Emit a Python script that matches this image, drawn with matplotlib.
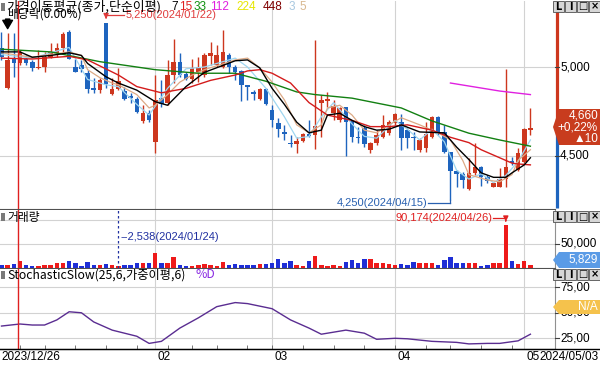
import matplotlib
matplotlib.use("Agg")
import matplotlib.pyplot as plt
from matplotlib.patches import Rectangle, Polygon
from matplotlib.lines import Line2D
from matplotlib.transforms import blended_transform_factory
import numpy as np
import pandas as pd

plt.rcParams['font.family'] = ['Noto Sans CJK KR', 'DejaVu Sans']

W, H = 600, 366

# 거래일 (휴장일 빼고)
holidays = pd.to_datetime(['2023-12-29', '2024-01-01', '2024-02-09', '2024-02-12',
                           '2024-03-01', '2024-04-10', '2024-05-01'])
days = pd.bdate_range('2023-12-26', '2024-05-03')
days = days[~days.isin(holidays)]

# 일봉 시가/고가/저가/종가
opens = [5105, 4880, 5045, 5020, 5045, 5030, 4995, 5000, 5055, 5080,
         5105, 5195, 5000, 5010, 4965, 4880, 4870, 5245, 4850, 4875,
         4865, 4835, 4820, 4695, 4740, 4580, 4825, 4800, 4955, 5030,
         4960, 4935, 4970, 4955, 5060, 5010, 5000, 5065, 5000, 4980,
         4900, 4860, 4820, 4875, 4760, 4685, 4635, 4575, 4565, 4585,
         4625, 4620, 4800, 4810, 4740, 4700, 4775, 4695, 4605, 4655,
         4535, 4575, 4605, 4630, 4685, 4690, 4645, 4605, 4535, 4545,
         4605, 4720, 4635, 4525, 4415, 4400, 4315, 4405, 4440, 4380,
         4325, 4325, 4370, 4470, 4420, 4465, 4645]
highs = [5195, 5190, 5190, 5095, 5065, 5040, 5095, 5085, 5135, 5135,
         5195, 5210, 5045, 5040, 4985, 4940, 4940, 5250, 4940, 4995,
         4890, 4855, 4830, 4785, 4760, 4955, 4925, 5040, 5155, 5080,
         4970, 5045, 5055, 5080, 5140, 5125, 5210, 5080, 5010, 4985,
         4900, 4870, 4880, 4880, 4785, 4715, 4675, 4620, 4605, 4630,
         4700, 5150, 4845, 4860, 4815, 4775, 4775, 4700, 4665, 4675,
         4580, 4645, 4730, 4700, 4740, 4735, 4655, 4635, 4600, 4690,
         4725, 4725, 4675, 4525, 4420, 4410, 4490, 4575, 4445, 4395,
         4355, 4430, 4990, 4495, 4545, 4655, 4770]
lows = [5040, 4875, 4945, 5010, 5010, 4975, 4990, 4970, 5050, 5055,
        5085, 5045, 4970, 4970, 4855, 4855, 4855, 4880, 4845, 4870,
        4815, 4800, 4740, 4685, 4690, 4515, 4775, 4785, 4910, 4945,
        4925, 4910, 4915, 4945, 5010, 5000, 4995, 4965, 4925, 4810,
        4815, 4815, 4815, 4785, 4665, 4605, 4590, 4550, 4515, 4580,
        4605, 4540, 4605, 4775, 4700, 4690, 4500, 4580, 4575, 4550,
        4515, 4560, 4600, 4620, 4675, 4535, 4545, 4535, 4525, 4525,
        4600, 4620, 4515, 4250, 4325, 4320, 4310, 4395, 4330, 4350,
        4325, 4325, 4325, 4450, 4415, 4460, 4620]
closes = [5055, 5040, 5020, 5085, 5020, 4995, 5000, 5055, 5085, 5105,
          5185, 5045, 4970, 4990, 4875, 4870, 4925, 4905, 4875, 4920,
          4820, 4825, 4745, 4740, 4700, 4815, 4790, 4955, 5030, 4955,
          4935, 4995, 5000, 5065, 5080, 5065, 5085, 5000, 4970, 4900,
          4890, 4850, 4875, 4790, 4700, 4650, 4625, 4565, 4585, 4625,
          4610, 4670, 4815, 4820, 4780, 4770, 4690, 4605, 4600, 4565,
          4575, 4620, 4675, 4690, 4735, 4600, 4600, 4600, 4590, 4625,
          4720, 4630, 4525, 4415, 4400, 4365, 4405, 4440, 4380, 4360,
          4350, 4370, 4440, 4460, 4515, 4650, 4660]
volumes = [5700, 5700, 7000, 12800, 5700, 3600, 3600, 5700, 5700, 10000,
           10000, 14300, 10000, 3600, 12100, 5700, 5700, 7900, 5700, 2538,
           5700, 5700, 9200, 8500, 10600, 29800, 10000, 10600, 21300, 4900,
           3600, 3600, 5700, 7000, 5700, 3600, 12100, 5700, 7000, 5700,
           4300, 4300, 7000, 7000, 8500, 17700, 10600, 12800, 5700, 3600,
           14300, 24900, 5700, 3600, 5700, 3600, 12100, 15500, 8500, 17700,
           17700, 10600, 10000, 7000, 5700, 7000, 5700, 12100, 10000, 8500,
           8500, 5700, 15500, 22800, 10600, 8500, 8500, 8500, 3600, 5700,
           9200, 9200, 90174, 14300, 7000, 14300, 5829]

# 이동평균선 (그림에서 읽은 점)
ma7_x = [0, 3, 5, 8, 11, 13, 14, 17, 19, 22, 25, 27, 30, 33, 38, 40, 42, 44, 46, 48,
         50, 52, 53, 55, 57, 59, 61, 63, 65, 68, 72, 74, 76, 78, 80, 82, 83, 85, 86]
ma7_y = [5085, 5085, 5055, 5065, 5080, 5065, 5020, 4945, 4910, 4870, 4805, 4785, 4890,
         4970, 5035, 5040, 4995, 4880, 4790, 4690, 4630, 4645, 4730, 4740, 4700, 4665,
         4645, 4650, 4675, 4635, 4630, 4550, 4480, 4405, 4380, 4380, 4405, 4450, 4490]
ma15_x = [0, 5, 11, 14, 19, 22, 26, 30, 34, 38, 40, 42, 44, 47, 50, 53, 57, 60, 63, 66,
          70, 73, 76, 78, 81, 83, 84, 86]
ma15_y = [5050, 5045, 5060, 5040, 4955, 4890, 4855, 4880, 4925, 4955, 4978, 4985, 4965,
          4910, 4800, 4730, 4700, 4665, 4665, 4675, 4645, 4605, 4575, 4535, 4490, 4460,
          4455, 4450]
ma33_x = [0, 8, 16, 22, 25, 32, 38, 43, 48, 51, 57, 65, 70, 76, 81, 86]
ma33_y = [5100, 5085, 5030, 5000, 4985, 4965, 4965, 4920, 4860, 4845, 4825, 4770, 4697,
          4628, 4590, 4555]
ma112_x = [73, 81, 86]
ma112_y = [4910, 4865, 4845]
ma3_x = [0, 5, 11, 14, 17, 19, 22, 24, 27, 30, 33, 38, 40, 43, 46, 48, 50, 52, 54, 57,
         59, 61, 64, 66, 68, 70, 72, 74, 76, 78, 80, 82, 84, 86]
ma3_y = [5070, 5050, 5110, 4930, 4900, 4890, 4790, 4730, 4880, 4990, 5000, 5050, 5000,
         4880, 4720, 4600, 4610, 4720, 4800, 4680, 4610, 4600, 4700, 4650, 4590, 4650,
         4580, 4420, 4370, 4400, 4350, 4390, 4470, 4590]
ma5_x = [0, 5, 11, 13, 14, 16, 18, 19, 22, 24, 25, 27, 29, 31, 33, 38, 40, 42, 44, 46,
         48, 50, 52, 53, 55, 57, 59, 61, 63, 65, 68, 71, 73, 75, 76, 78, 79, 81, 83, 84, 86]
ma5_y = [5080, 5055, 5085, 5065, 4985, 4940, 4910, 4900, 4845, 4770, 4785, 4845, 4915,
         4955, 4985, 5040, 5050, 4995, 4915, 4815, 4675, 4630, 4675, 4770, 4785, 4730,
         4645, 4630, 4675, 4715, 4675, 4630, 4590, 4475, 4395, 4375, 4365, 4355, 4395,
         4475, 4535]

# StochasticSlow %D
stoch_x = [0, 3, 5, 7, 9, 11, 13, 15, 18, 22, 24, 26, 29, 32, 35, 38, 40, 44, 47, 50,
           52, 54, 56, 59, 61, 64, 66, 70, 74, 76, 79, 81, 84, 86]
stoch_y = [37, 39, 38, 38, 43, 51, 50, 41, 33, 27, 20, 22, 35, 45, 56, 60, 59, 54, 43, 35,
           29, 31, 33, 30, 24, 25, 24.5, 22, 21, 19.5, 20, 20, 22.5, 29]

max_i, min_low_i, max_vol_i, min_vol_i = 17, 73, 82, 19

opens, highs, lows, closes, volumes = map(np.array, (opens, highs, lows, closes, volumes))
n = len(closes)
idx = np.arange(n)
up = closes >= opens
RED, BLUE = '#cd371e', '#1e64be'
candle_col = np.where(up, RED, BLUE)
vol_col = np.where(up, '#ee1a1a', '#1e2ed6')

month_starts = [i for i in range(1, n) if days[i].month != days[i - 1].month]
year_line = month_starts[0] - 0.3
week_starts = [i for i in range(1, n) if days[i].weekday() < days[i - 1].weekday()]


def rect(x0, y0, x1, y1):
    return [x0 / W, 1 - y1 / H, (x1 - x0) / W, (y1 - y0) / H]


def fpt(x, y):
    return (x / W, 1 - y / H)


fig = plt.figure(figsize=(6, 3.66), dpi=100)
ax_p = fig.add_axes(rect(0, 1, 555, 209))
ax_v = fig.add_axes(rect(0, 210, 555, 267.5))
ax_s = fig.add_axes(rect(0, 268.5, 555, 349))


def right_labels(ax, values, labels, z=9):
    # 오른쪽 눈금 표시와 값 (축 좌표 -> 그림 좌표)
    to_fig = ax.transData + fig.transFigure.inverted()
    xr = ax.get_position().x1
    for v, s in zip(values, labels):
        yf = to_fig.transform((0, v))[1]
        fig.add_artist(Line2D([xr, xr + 4 / W], [yf, yf], color='#404040', lw=0.8))
        if s:
            fig.text(xr + 5 / W, yf, s, fontsize=8.5, va='center', ha='left', color='black',
                     family='Liberation Sans', zorder=z)


for ax in (ax_p, ax_v, ax_s):
    ax.set_xlim(-1.5 / 6.15, (555 - 1.5) / 6.15)
    ax.spines['left'].set_visible(False)
    ax.spines['top'].set_visible(False)
    ax.spines['right'].set_color('#909090')
    ax.spines['bottom'].set_color('#505050')
    ax.set_xticks([])
    ax.set_yticks([])
    for m in month_starts[1:]:
        ax.axvline(m, color='#d2d2d2', lw=0.8, zorder=0)
    ax.axvline(year_line, color='#e02020', lw=1, zorder=6)

# ---- 가격 ----
ax_p.set_ylim(4202, 5371)
ax_p.spines['right'].set_visible(False)
for v in (4500, 5000):
    ax_p.axhline(v, color='#d2d2d2', lw=0.8, zorder=0)
right_labels(ax_p, [4500, 5000], ['4,500', '5,000'])
ax_p.vlines(idx, lows, highs, colors=candle_col, lw=1, zorder=3)
ax_p.bar(idx, np.maximum(abs(closes - opens), 6), bottom=np.minimum(opens, closes),
         width=0.74, color=candle_col, zorder=4)
ax_p.plot(ma3_x, ma3_y, color='#9ed6f0', lw=0.9, zorder=5)
ax_p.plot(ma5_x, ma5_y, color='#dcaa86', lw=0.9, zorder=5)
ax_p.plot(ma33_x, ma33_y, color='#128012', lw=1, zorder=5)
ax_p.plot(ma15_x, ma15_y, color='#d41c1c', lw=1, zorder=5)
ax_p.plot(ma7_x, ma7_y, color='black', lw=1, zorder=5)
ax_p.plot(ma112_x, ma112_y, color='#e020e0', lw=1, zorder=5)

# 최고/최저 표시
hi = highs[max_i]
ax_p.plot([max_i, max_i + 3.0], [5292, 5292], color='#e03c3c', lw=0.9)
ax_p.annotate('', xy=(max_i, hi + 4), xytext=(max_i, 5293),
              arrowprops=dict(arrowstyle='-|>,head_width=0.15,head_length=0.3',
                              color='#e03c3c', lw=0.9))
ax_p.text(max_i + 3.1, 5292, f'{hi:,}({days[max_i]:%Y/%m/%d})', color='#e03c3c',
          fontsize=8, va='center', family='Liberation Sans')
lo = lows[min_low_i]
ax_p.plot([min_low_i - 3.6, min_low_i], [4233, 4233], color='#2860b0', lw=0.9)
ax_p.plot([min_low_i, min_low_i], [4233, lo], color='#2860b0', lw=0.9)
ax_p.text(min_low_i - 3.7, 4233, f'{lo:,}({days[min_low_i]:%Y/%m/%d})', color='#2860b0',
          fontsize=8, va='center', ha='right', family='Liberation Sans')

# 배당락 화살표
ax_p.annotate('', xy=(1, 5200), xytext=(1, 5285),
              arrowprops=dict(arrowstyle='simple,head_width=0.7,head_length=0.6,tail_width=0.3',
                              color='black'))

# 현재가 막대
tr = blended_transform_factory(ax_p.transAxes, ax_p.transData)
ax_p.plot([1.004, 1.004], [closes[-1], 5320], transform=tr, color=RED, lw=2.3,
          clip_on=False, solid_capstyle='butt')
ax_p.plot([1.004, 1.004], [4206, closes[-1]], transform=tr, color=BLUE, lw=2.3,
          clip_on=False, solid_capstyle='butt')

# ---- 거래량 ----
ax_v.set_ylim(0, 122000)
for v in (50000, 100000):
    ax_v.axhline(v, color='#d2d2d2', lw=0.8, zorder=0)
right_labels(ax_v, [50000, 100000], ['50,000', ''])
ax_v.bar(idx, volumes, width=0.72, color=vol_col, zorder=3)
ax_v.axvline(min_vol_i, color='#2030a0', lw=0.9, ls=(0, (2, 2)), zorder=4)
ax_v.text(min_vol_i + 0.3, 65000, f'--{volumes[min_vol_i]:,}({days[min_vol_i]:%Y/%m/%d})',
          color='#2030a0', fontsize=8, va='center', family='Liberation Sans')
vmax = volumes[max_vol_i]
ax_v.plot([max_vol_i - 2.1, max_vol_i], [105000, 105000], color='#e02020', lw=0.9)
ax_v.annotate('', xy=(max_vol_i, vmax + 1500), xytext=(max_vol_i, 105500),
              arrowprops=dict(arrowstyle='-|>,head_width=0.15,head_length=0.3',
                              color='#e02020', lw=0.9))
ax_v.text(max_vol_i - 2.2, 105000, f'{vmax:,}({days[max_vol_i]:%Y/%m/%d})', color='#e02020',
          fontsize=8, va='center', ha='right', family='Liberation Sans')

# ---- Stochastic ----
ax_s.set_ylim(14.5, 93.4)
for v in (25, 50, 75):
    ax_s.axhline(v, color='#d2d2d2', lw=0.8, zorder=0)
right_labels(ax_s, [25, 50, 75], ['25,00', '50,00', '75,00'], z=9)
ax_s.plot(stoch_x, stoch_y, color='#5a2d91', lw=1, zorder=3)
ax_s.spines['bottom'].set_color('black')
ax_s.set_xticks(week_starts, minor=True)
ax_s.tick_params(axis='x', which='minor', direction='in', length=3, color='#606060')

# 날짜 라벨
trd = blended_transform_factory(ax_s.transData, fig.transFigure)
fig.text(1 / W, fpt(0, 357)[1], f'{days[0]:%Y/%m/%d}', fontsize=8.5, va='center',
         family='Liberation Sans')
for m in month_starts[1:]:
    ax_s.text(m + 0.35, fpt(0, 357)[1], f'{days[m]:%m}', transform=trd, fontsize=8.5,
              va='center', family='Liberation Sans', clip_on=False)
fig.text(599 / W, fpt(0, 357)[1], f'{days[-1]:%Y/%m/%d}', fontsize=8.5, va='center',
         ha='right', family='Liberation Sans')
fig.add_artist(Line2D([0, 1], [fpt(0, 349)[1]] * 2, color='black', lw=1))


def tag(y0, y1, color, lines):
    ym = (y0 + y1) / 2
    pts = [fpt(553, ym), fpt(559, y0), fpt(600, y0), fpt(600, y1), fpt(559, y1)]
    fig.add_artist(Polygon(pts, closed=True, transform=fig.transFigure,
                           facecolor=color, edgecolor='none', zorder=10))
    step = (y1 - y0) / len(lines)
    for k, s in enumerate(lines):
        fig.text(598 / W, fpt(0, y0 + step * (k + 0.5))[1], s, color='white', fontsize=8.5,
                 ha='right', va='center', family='Liberation Sans', zorder=11)


chg = closes[-1] - closes[-2]
tag(109, 145, '#c83c1e', [f'{closes[-1]:,}', f'+{chg / closes[-2] * 100:.2f}%'.replace('.', ','),
                          f'▲{chg}'])
tag(252, 268, '#5a9be6', [f'{volumes[-1]:,}'])
tag(300, 314, '#f5c24c', ['N/A'])

# 창 버튼
for ytop in (1, 211, 269):
    for k, g in enumerate(['L', 'I', '□', '×']):
        x0 = 553 + k * 12
        fig.add_artist(Rectangle(fpt(x0, ytop + 11), 11 / W, 11 / H, transform=fig.transFigure,
                                 facecolor='#d6d6d6', edgecolor='#505050', lw=0.6, zorder=12))
        fig.text((x0 + 5.5) / W, fpt(0, ytop + 5.5)[1], g, fontsize=7, ha='center', va='center',
                 weight='bold', family='DejaVu Sans', zorder=13)

# 제목들
for ytop in (3, 213, 271):
    fig.add_artist(Rectangle(fpt(1, ytop + 8), 4 / W, 8 / H, transform=fig.transFigure,
                             facecolor='#7a7a7a', edgecolor='none'))
fig.text(6 / W, fpt(0, 7)[1], '가격이동평균(종가,단순이평)', fontsize=9.3, va='center')
for x, s, c in [(171, '7', 'black'), (179, '15', '#e02020'), (194, '33', '#109010'),
                (210, '112', '#e020e0'), (236, '224', '#e6e600'), (263, '448', '#800000'),
                (289, '3', '#a8c8e0'), (299, '5', '#d8b890')]:
    fig.text(x / W, fpt(0, 7)[1], s, color=c, fontsize=8.5, va='center', family='Liberation Sans')
fig.text(7 / W, fpt(0, 14)[1], '배당락(0.00%)', fontsize=8.5, va='center')
fig.text(7 / W, fpt(0, 217)[1], '거래량', fontsize=8.5, va='center')
fig.text(7 / W, fpt(0, 275)[1], 'StochasticSlow(25,6,가중이평,6)', fontsize=8.8, va='center')
fig.text(196 / W, fpt(0, 275)[1], '%D', color='#8a2be2', fontsize=8.8, va='center')

fig.savefig('out.png', dpi=100)
